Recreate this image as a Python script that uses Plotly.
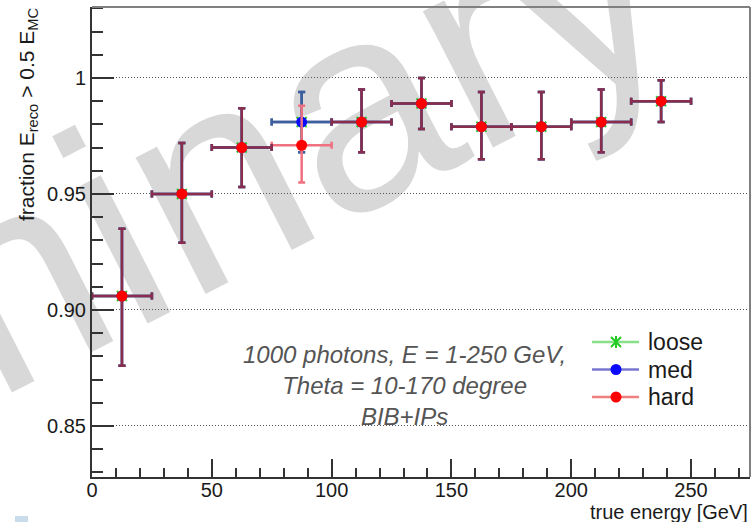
import plotly.graph_objects as go

# ---------------- data ----------------
energy_bins = [12.5, 37.5, 62.5, 87.5, 112.5, 137.5, 162.5, 187.5, 212.5, 237.5]
bin_half_width = [12.5] * 10

hard = [0.906, 0.950, 0.970, 0.971, 0.981, 0.989, 0.979, 0.979, 0.981, 0.990]
hard_err_up = [0.029, 0.022, 0.017, 0.017, 0.014, 0.011, 0.015, 0.015, 0.014, 0.009]
hard_err_down = [0.030, 0.021, 0.017, 0.016, 0.013, 0.011, 0.014, 0.014, 0.013, 0.009]

med = [0.906, 0.950, 0.970, 0.981, 0.981, 0.989, 0.979, 0.979, 0.981, 0.990]
med_err_up = [0.029, 0.022, 0.017, 0.013, 0.014, 0.011, 0.015, 0.015, 0.014, 0.009]
med_err_down = [0.030, 0.021, 0.017, 0.013, 0.013, 0.011, 0.014, 0.014, 0.013, 0.009]

loose = [0.906, 0.950, 0.970, 0.981, 0.981, 0.989, 0.979, 0.979, 0.981, 0.990]
loose_err_up = [0.029, 0.022, 0.017, 0.013, 0.014, 0.011, 0.015, 0.015, 0.014, 0.009]
loose_err_down = [0.030, 0.021, 0.017, 0.013, 0.013, 0.011, 0.014, 0.014, 0.013, 0.009]

series_names = ["loose", "med", "hard"]
x_tickvals = [0, 50, 100, 150, 200, 250]
x_ticktext = ["0", "50", "100", "150", "200", "250"]
y_tickvals = [0.85, 0.90, 0.95, 1.0]
y_ticktext = ["0.85", "0.90", "0.95", "1"]

info_text = "1000 photons, E = 1-250 GeV,<br>Theta = 10-170 degree<br>BIB+IPs"
x_title = "true energy [GeV]"
y_title = "fraction E<sub>reco</sub> > 0.5 E<sub>MC</sub>"
watermark = "Preliminary"

# ---------------- styles ----------------
FONT = "Liberation Sans, Arial, sans-serif"
MAROON = "#8a2c4c"
STEEL = "#3d5f9e"
PINK = "#f07080"
W, H = 754, 522
ML, MR, MT, MB = 92, 4, 7, 45
PW, PH = W - ML - MR, H - MT - MB


def px(xp):
    return (xp - ML) / PW


def py(yp):
    return (H - MB - yp) / PH


def sub(arr, mask):
    return [a for a, m in zip(arr, mask) if m]


fig = go.Figure()

# loose
fig.add_trace(go.Scatter(
    x=energy_bins, y=loose, mode="markers", showlegend=False, name="loose",
    marker=dict(symbol="x-thin", size=10, color="#33cc33", line=dict(color="#33cc33", width=2)),
    error_x=dict(type="data", array=bin_half_width, color=STEEL, thickness=2.5, width=3.5),
    error_y=dict(type="data", array=loose_err_up, arrayminus=loose_err_down, symmetric=False,
                 color=STEEL, thickness=2.5, width=3.5),
))
# med
fig.add_trace(go.Scatter(
    x=energy_bins, y=med, mode="markers", showlegend=False, name="med",
    marker=dict(symbol="circle", size=11, color="#0a0aff"),
    error_x=dict(type="data", array=bin_half_width, color=STEEL, thickness=2.5, width=3.5),
    error_y=dict(type="data", array=med_err_up, arrayminus=med_err_down, symmetric=False,
                 color=STEEL, thickness=2.5, width=3.5),
))
# hard: bins differing from med get light error bars, overlapping bins appear maroon
same = [abs(h - m) < 1e-9 for h, m in zip(hard, med)]
diff = [not s for s in same]
for mask, ecol in ((diff, PINK), (same, MAROON)):
    fig.add_trace(go.Scatter(
        x=sub(energy_bins, mask), y=sub(hard, mask), mode="markers", showlegend=False, name="hard",
        marker=dict(symbol="circle", size=11, color="#ff0000"),
        error_x=dict(type="data", array=sub(bin_half_width, mask), color=ecol, thickness=2.5, width=3.5),
        error_y=dict(type="data", array=sub(hard_err_up, mask), arrayminus=sub(hard_err_down, mask),
                     symmetric=False, color=ecol, thickness=2.5, width=3.5),
    ))

axis_common = dict(
    showline=True, linecolor="#333333", linewidth=2, mirror=False,
    ticks="inside", tickcolor="#333333", tickwidth=2,
    tickfont=dict(family=FONT, size=20, color="#1a1a1a"),
    zeroline=False,
)
fig.update_xaxes(
    range=[0, 274.6], tickvals=x_tickvals, ticktext=x_ticktext, ticklen=18,
    showgrid=False, ticklabelstandoff=-6,
    minor=dict(ticks="inside", ticklen=9, dtick=10, tick0=0, tickcolor="#333333", tickwidth=1.5, showgrid=False),
    **axis_common,
)
fig.update_yaxes(
    range=[0.828, 1.0306], tickvals=y_tickvals, ticktext=y_ticktext, ticklen=22,
    showgrid=True, gridcolor="#555555", gridwidth=1, griddash="1px,2px",
    minor=dict(ticks="inside", ticklen=11, dtick=0.01, tick0=0.83, tickcolor="#333333", tickwidth=1.5, showgrid=False),
    **axis_common,
)

shapes = [
    # watermark (below data)
    dict(type="rect", xref="paper", yref="paper", x0=-0.165, x1=-0.155, y0=0.450, y1=0.460,
         line=dict(width=0), fillcolor="rgba(0,0,0,0)", layer="below",
         label=dict(text=watermark, textangle=-27, textposition="middle center",
                    font=dict(family=FONT, size=290, color="#d8d8d8"))),
    # top and right frame
    dict(type="line", xref="paper", yref="paper", x0=0, x1=1, y0=1, y1=1,
         line=dict(color="#808080", width=2)),
    dict(type="line", xref="paper", yref="paper", x0=1, x1=1, y0=0, y1=1,
         line=dict(color="#808080", width=2)),
    # small slide artefact square
    dict(type="rect", xref="paper", yref="paper",
         x0=px(15), x1=px(28), y0=py(522), y1=py(516),
         line=dict(width=0), fillcolor="#c8dcec"),
]

annotations = [
    dict(text=info_text, xref="paper", yref="paper", x=px(404), y=py(385),
         xanchor="center", yanchor="middle", showarrow=False, align="center",
         font=dict(family=FONT, size=24, color="#555555", style="italic")),
    dict(text=x_title, xref="paper", yref="paper", x=1.0, y=py(512),
         xanchor="right", yanchor="middle", showarrow=False,
         font=dict(family=FONT, size=20, color="#1a1a1a")),
    dict(text=y_title, xref="paper", yref="paper", x=px(28), y=py(5),
         xanchor="center", yanchor="top", showarrow=False, textangle=-90,
         font=dict(family=FONT, size=21, color="#1a1a1a")),
]

# manual legend (ROOT-style: line + marker + label)
legend_line_colors = {"loose": "#88e088", "med": "#7777d0", "hard": "#f08080"}
legend_marker_colors = {"loose": "#22cc22", "med": "#0a0aff", "hard": "#ff0000"}
for i, name in enumerate(series_names):
    yc = 342 + 27.5 * i
    shapes.append(dict(type="line", xref="paper", yref="paper", x0=px(592), x1=px(639),
                       y0=py(yc), y1=py(yc), line=dict(color=legend_line_colors[name], width=2.5)))
    if name == "loose":
        shapes.append(dict(type="path", xref="paper", yref="paper", xsizemode="pixel", ysizemode="pixel",
                           xanchor=px(616), yanchor=py(yc),
                           path="M-5,-5L5,5M-5,5L5,-5M0,-6L0,6",
                           line=dict(color=legend_marker_colors[name], width=2)))
    else:
        shapes.append(dict(type="circle", xref="paper", yref="paper", xsizemode="pixel", ysizemode="pixel",
                           xanchor=px(616), yanchor=py(yc), x0=-5.5, x1=5.5, y0=-5.5, y1=5.5,
                           fillcolor=legend_marker_colors[name], line=dict(width=0)))
    annotations.append(dict(text=name, xref="paper", yref="paper", x=px(646), y=py(yc),
                            xanchor="left", yanchor="middle", showarrow=False,
                            font=dict(family=FONT, size=23, color="#1a1a1a")))

fig.update_layout(
    width=W, height=H,
    margin=dict(l=ML, r=MR, t=MT, b=MB),
    paper_bgcolor="white", plot_bgcolor="rgba(0,0,0,0)",
    font=dict(family=FONT, color="#1a1a1a"),
    showlegend=False,
    shapes=shapes,
    annotations=annotations,
)

fig.write_html("out.html")
